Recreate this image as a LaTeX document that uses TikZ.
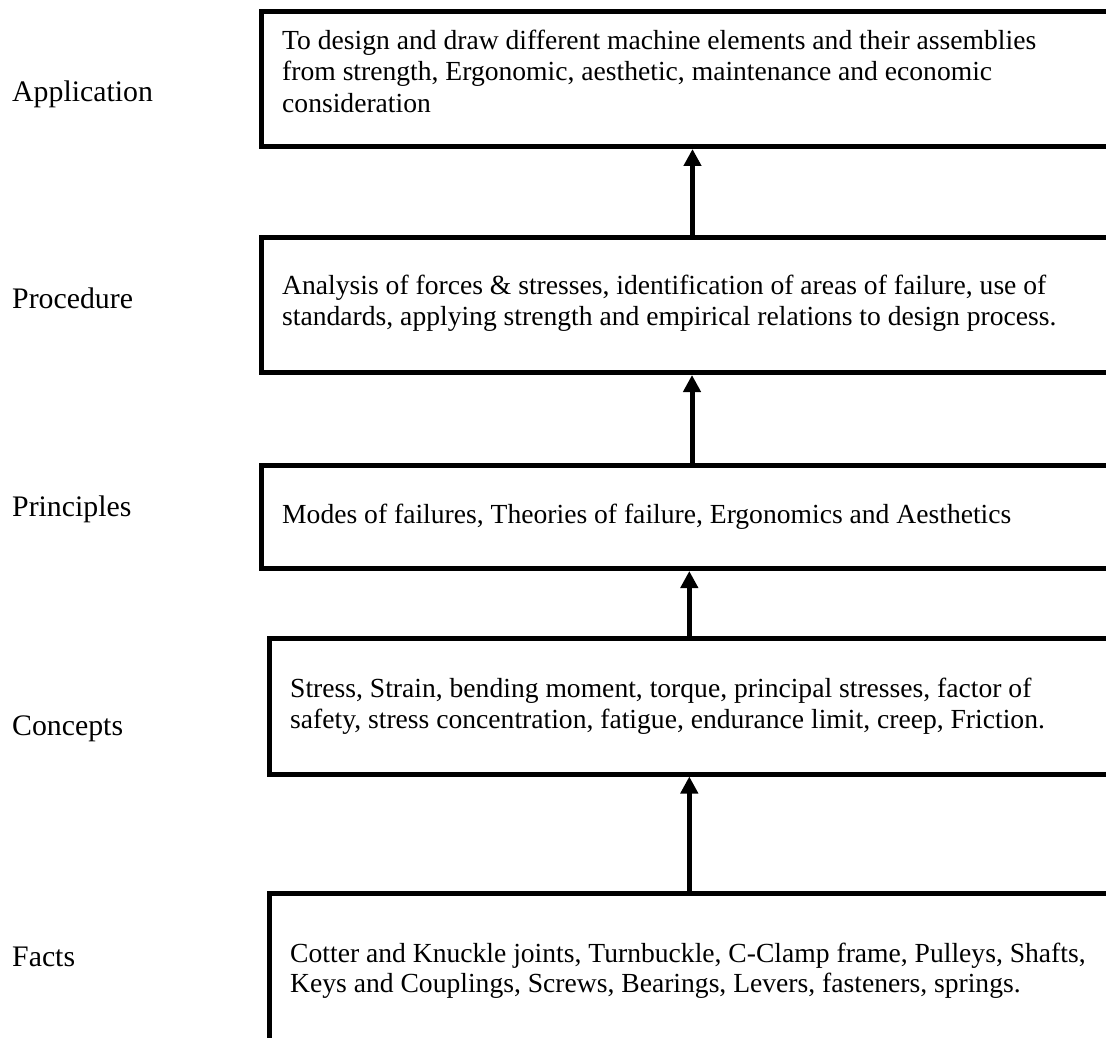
\documentclass[tikz,border=0pt]{standalone}
\usepackage{fontspec}
\setmainfont{Liberation Serif}
\usetikzlibrary{arrows.meta}
\begin{document}
\begin{tikzpicture}[x=1pt,y=-1pt,
  box/.style={draw,line width=5pt,anchor=north west,minimum width=900pt,inner sep=0pt,outer sep=0pt},
  txt/.style={anchor=base west,inner sep=0pt,font=\fontsize{27.6}{31}\selectfont},
  lbl/.style={anchor=base west,inner sep=0pt,font=\fontsize{29.8}{34}\selectfont},
  arr/.style={line width=5pt,-{Triangle[length=17pt,width=17pt]},shorten >=2.5pt}]
\clip (0,0) rectangle (1106,1038);
% boxes
\node[box,minimum height=135pt] (b1) at (261,11.5) {};
\node[box,minimum height=135pt] (b2) at (261,237.5) {};
\node[box,minimum height=103pt] (b3) at (261,465.5) {};
\node[box,minimum height=135.5pt] (b4) at (269.5,638.5) {};
\node[box,minimum height=220pt] (b5) at (269.5,893) {};
% box texts
\node[txt] (t1a) at (282,49.5) {To design and draw different machine elements and their assemblies};
\node[txt] (t1b) at (282,81) {from strength, Ergonomic, aesthetic, maintenance and economic};
\node[txt] (t1c) at (282,112.5) {consideration};
\node[txt] (t2a) at (282,294) {Analysis of forces \& stresses, identification of areas of failure, use of};
\node[txt] (t2b) at (282,325) {standards, applying strength and empirical relations to design process.};
\node[txt] (t3a) at (282,523) {Modes of failures, Theories of failure, Ergonomics and Aesthetics};
\node[txt] (t4a) at (290,697) {Stress, Strain, bending moment, torque, principal stresses, factor of};
\node[txt] (t4b) at (290,728.5) {safety, stress concentration, fatigue, endurance limit, creep, Friction.};
\node[txt] (t5a) at (290,962) {Cotter and Knuckle joints, Turnbuckle, C-Clamp frame, Pulleys, Shafts,};
\node[txt] (t5b) at (290,992.5) {Keys and Couplings, Screws, Bearings, Levers, fasteners, springs.};
% labels
\node[lbl] (l1) at (12,102) {Application};
\node[lbl] (l2) at (12,308.5) {Procedure};
\node[lbl] (l3) at (12,516) {Principles};
\node[lbl] (l4) at (12,735) {Concepts};
\node[lbl] (l5) at (12,966) {Facts};
% arrows
\coordinate (x1) at (692.5,0);
\coordinate (x2) at (692,0);
\coordinate (x3) at (689.3,0);
\coordinate (x4) at (689.3,0);
\draw[arr] (b2.north -| x1) -- (b1.south -| x1);
\draw[arr] (b3.north -| x2) -- (b2.south -| x2);
\draw[arr] (b4.north -| x3) -- (b3.south -| x3);
\draw[arr] (b5.north -| x4) -- (b4.south -| x4);
\end{tikzpicture}
\end{document}
